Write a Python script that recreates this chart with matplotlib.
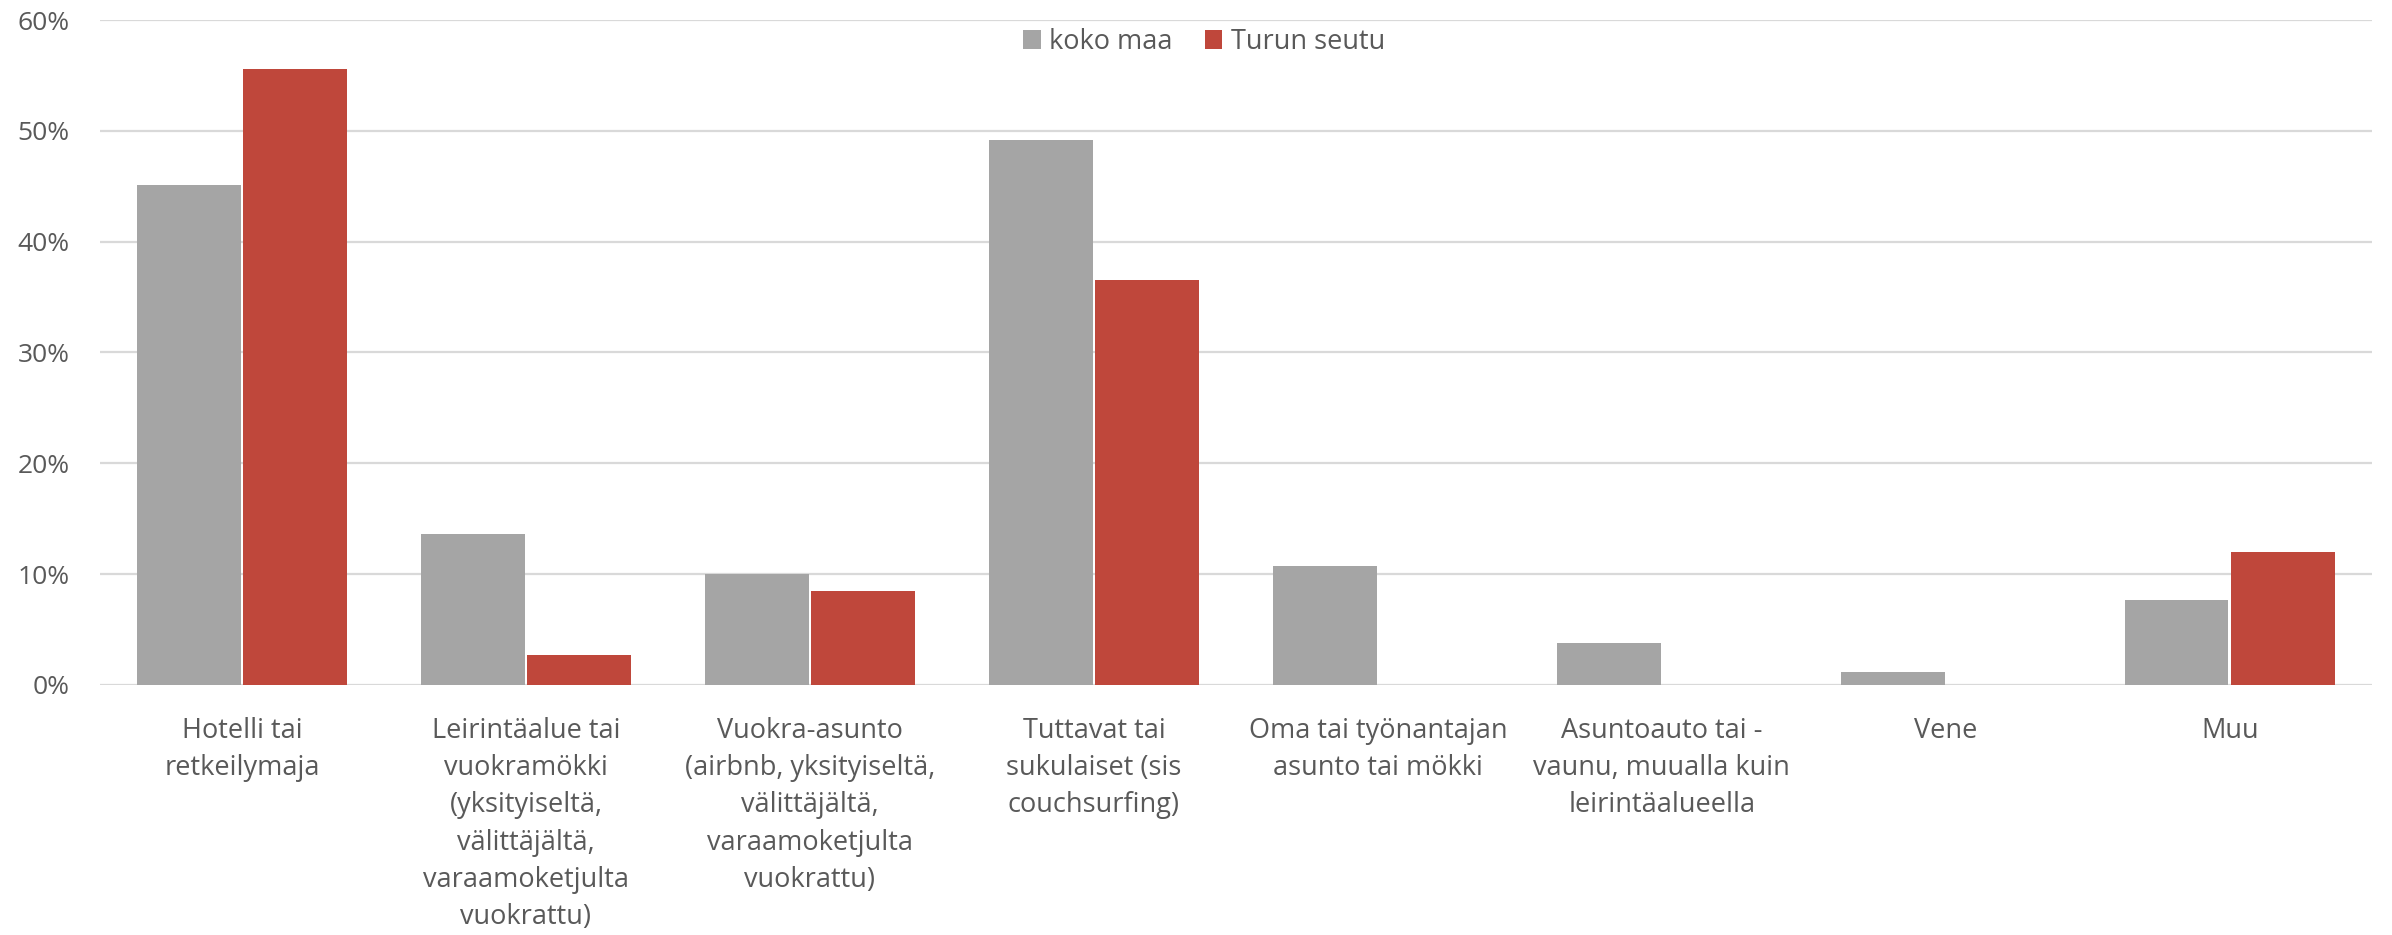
import matplotlib
matplotlib.use("Agg")
import matplotlib.pyplot as plt
import numpy as np
from matplotlib.ticker import PercentFormatter

categories = [
    "Hotelli tai\nretkeilymaja",
    "Leirintäalue tai\nvuokramökki\n(yksityiseltä,\nvälittäjältä,\nvaraamoketjulta\nvuokrattu)",
    "Vuokra-asunto\n(airbnb, yksityiseltä,\nvälittäjältä,\nvaraamoketjulta\nvuokrattu)",
    "Tuttavat tai\nsukulaiset (sis\ncouchsurfing)",
    "Oma tai työnantajan\nasunto tai mökki",
    "Asuntoauto tai -\nvaunu, muualla kuin\nleirintäalueella",
    "Vene",
    "Muu",
]
koko_maa = [45.1, 13.6, 10.0, 49.2, 10.7, 3.8, 1.2, 7.7]
turun_seutu = [55.6, 2.7, 8.5, 36.5, 0.0, 0.0, 0.0, 12.0]
series_names = ["koko maa", "Turun seutu"]
yticks = [0, 10, 20, 30, 40, 50, 60]

plt.rcParams['font.family'] = ['Open Sans', 'DejaVu Sans']

fig = plt.figure(figsize=(23.92, 9.35), dpi=100)
ax = fig.add_axes([0.0418, 0.2674, 0.9498, 0.7112])

x = np.arange(len(categories))
w = 0.365
off = 0.1875
gray = "#A5A5A5"
red = "#BF473B"
ax.bar(x - off, koko_maa, width=w, color=gray, label=series_names[0], zorder=3)
ax.bar(x + off, turun_seutu, width=w, color=red, label=series_names[1], zorder=3)

ax.set_xlim(-0.5, len(categories) - 0.5)
ax.set_ylim(0, 60)
ax.set_yticks(yticks)
ax.yaxis.set_major_formatter(PercentFormatter(decimals=0))
ax.grid(axis='y', color="#D9D9D9", linewidth=1.6, zorder=0)
for s in ax.spines.values():
    s.set_visible(False)
ax.tick_params(axis='both', length=0, colors="#595959")
ax.tick_params(axis='y', pad=22, labelsize=19)
ax.tick_params(axis='x', pad=23, labelsize=19.5)
ax.set_xticks(x)
ax.set_xticklabels(categories, linespacing=1.44, va='top')

leg = ax.legend(loc='center', bbox_to_anchor=(1204/2392, 1 - 42/935), bbox_transform=fig.transFigure,
                ncol=2, frameon=False, fontsize=19.5, handlelength=0.65, handleheight=0.65,
                handletextpad=0.3, columnspacing=1.2, labelcolor="#595959")

fig.savefig("out.png", dpi=100, facecolor="white")
